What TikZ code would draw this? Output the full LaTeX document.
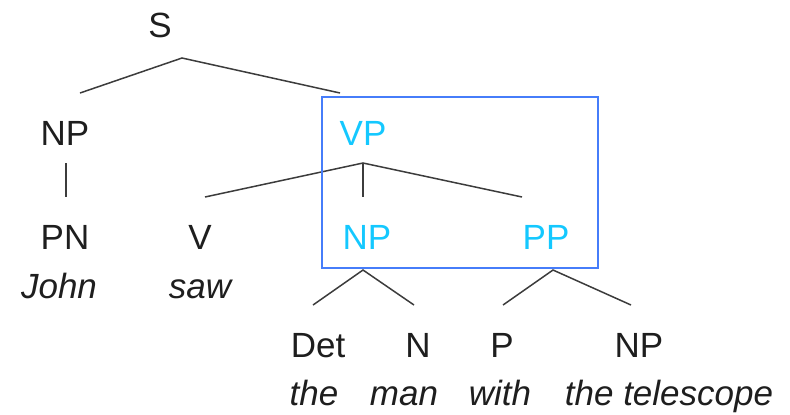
\documentclass[tikz,border=0pt]{standalone}
\usepackage{fontspec}
\setmainfont{Liberation Sans}
\definecolor{inkgray}{RGB}{30,30,30}
\definecolor{linegray}{RGB}{60,60,60}
\definecolor{cat}{RGB}{20,200,255}
\definecolor{boxblue}{RGB}{70,125,250}
\begin{document}
\begin{tikzpicture}[x=0.5pt,y=-0.5pt,
  lbl/.style={anchor=base,inner sep=0pt,font=\fontsize{17.5}{20}\selectfont,text=inkgray},
  hl/.style={lbl,text=cat},
  word/.style={lbl,font=\fontsize{17.5}{20}\selectfont\itshape},
  branch/.style={draw=linegray,line width=0.75pt},
  focus/.style={draw=boxblue,line width=1pt}]
\useasboundingbox (0,0) rectangle (790,414);

% category labels
\node[lbl] (S)   at (160,37)  {S};
\node[lbl] (NPa) at (65,145)  {NP};
\node[hl]  (VP)  at (363,145) {VP};
\node[lbl] (PN)  at (65,249)  {PN};
\node[lbl] (V)   at (200,249) {V};
\node[hl]  (NPb) at (367,249) {NP};
\node[hl]  (PP)  at (546,249) {PP};
\node[lbl] (Det) at (318,357) {Det};
\node[lbl] (N)   at (418,357) {N};
\node[lbl] (P)   at (502,357) {P};
\node[lbl] (NPc) at (639,357) {NP};

% words
\node[word] (john) at (59,298)  {John};
\node[word] (saw)  at (200,298) {saw};
\node[word] (the)  at (314,405) {the};
\node[word] (man)  at (404,405) {man};
\node[word] (with) at (500,405) {with};
\node[word] (tele) at (669,405) {the telescope};

% branch points
\coordinate (S-b)   at (182,58);
\coordinate (NPa-t) at (80,93);
\coordinate (VP-t)  at (340,93);
\coordinate (NPa-b) at (66,163);
\coordinate (PN-t)  at (66,197);
\coordinate (VP-b)  at (363,163);
\coordinate (V-t)   at (205,197);
\coordinate (NPb-t) at (363,197);
\coordinate (PP-t)  at (522,197);
\coordinate (NPb-b) at (363,270);
\coordinate (Det-t) at (313,305);
\coordinate (N-t)   at (414,305);
\coordinate (PP-b)  at (553,270);
\coordinate (P-t)   at (503,305);
\coordinate (NPc-t) at (631,305);

% branches
\draw[branch] (NPa-t) -- (S-b) -- (VP-t);
\draw[branch] (NPa-b) -- (PN-t);
\draw[branch] (V-t) -- (VP-b) -- (PP-t);
\draw[branch] (VP-b) -- (NPb-t);
\draw[branch] (Det-t) -- (NPb-b) -- (N-t);
\draw[branch] (P-t) -- (PP-b) -- (NPc-t);

% highlighted constituent
\coordinate (box-nw) at (322,97);
\coordinate (box-se) at (598,268);
\draw[focus] (box-nw) rectangle (box-se);
\end{tikzpicture}
\end{document}
